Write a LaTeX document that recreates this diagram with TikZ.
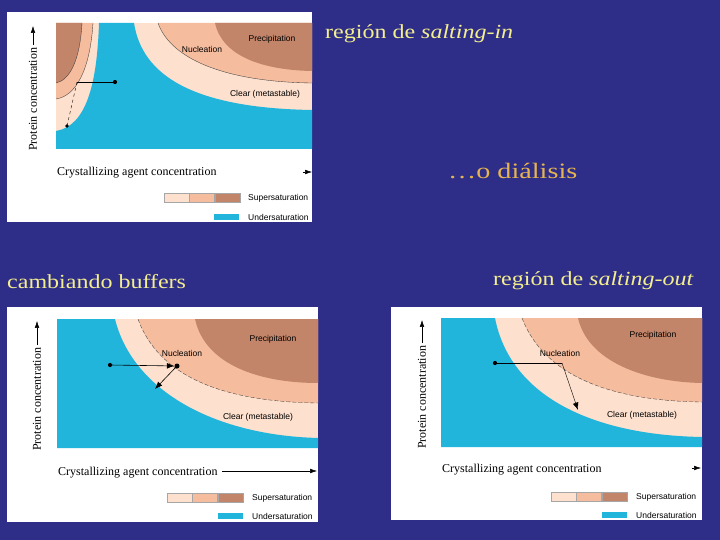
\documentclass[tikz,border=0pt]{standalone}
\usepackage{fontspec}
\setmainfont{Liberation Serif}
\newfontfamily\diagsans{Liberation Sans}
\usetikzlibrary{arrows.meta,positioning}
\definecolor{slideblue}{HTML}{2E2D88}
\definecolor{slideyellow}{HTML}{F3EE8E}
\definecolor{slideorange}{HTML}{E6B450}
\definecolor{undersat}{HTML}{22B5DC}
\definecolor{clearpeach}{HTML}{FDE0CE}
\definecolor{nucpeach}{HTML}{F5BC9E}
\definecolor{precbrown}{HTML}{C2856A}
\newcommand{\widetxt}[1]{\scalebox{1.2}[1]{#1}}
\tikzset{
  slideText/.style={font=\fontsize{20}{24}\selectfont, text=slideyellow, inner sep=0pt, anchor=base west},
  panelBox/.style={fill=white},
  regionLabel/.style={font=\diagsans\fontsize{8.5}{10}\selectfont, inner sep=1pt},
  legendLabel/.style={font=\diagsans\fontsize{8.5}{10}\selectfont, inner sep=0pt, anchor=west},
  axisLabel/.style={font=\fontsize{12}{14}\selectfont, inner sep=0pt},
  axisArrow/.style={-{Latex[length=2.4mm,width=1.6mm]}, line width=0.5pt},
  pathArrow/.style={-{Latex[length=2.6mm,width=2mm]}, line width=0.6pt},
  legendBox/.style={draw=black!35, line width=0.3pt, minimum width=25pt, minimum height=9pt, inner sep=0pt},
  boundLine/.style={line width=0.35pt, draw=black!75},
  stateDot/.style={circle, fill=black, inner sep=0pt, minimum size=4.2pt}
}
\begin{document}
\begin{tikzpicture}[x=1pt,y=-1pt]
  \useasboundingbox (0,0) rectangle (720,540);
  \fill[slideblue] (0,0) rectangle (720,540);

  % panel 1: salting-in
  \fill[panelBox] (7,12) rectangle (312,222);
  \begin{scope}
    \clip (56,23) rectangle (312,149);
    \fill[clearpeach] (56,23) rectangle (312,149);
    \fill[nucpeach] (56,23) -- (93,23) .. controls (90,70) and (76,96) .. (56,99) -- cycle;
    \fill[nucpeach] (158,23) .. controls (172,62) and (232,82) .. (312,83) -- (312,23) -- cycle;
    \fill[precbrown] (56,23) -- (82,23) .. controls (80,60) and (70,80) .. (56,83) -- cycle;
    \fill[precbrown] (215,23) .. controls (222,55) and (260,70) .. (312,71) -- (312,23) -- cycle;
    \fill[undersat] (99,23) .. controls (97,85) and (86,126) .. (56,131) -- (56,149) -- (312,149)
      -- (312,110) .. controls (192,108) and (142,75) .. (134,23) -- cycle;
    \draw[boundLine] (93,23) .. controls (90,70) and (76,96) .. (56,99);
    \draw[boundLine] (82,23) .. controls (80,60) and (70,80) .. (56,83);
    \draw[boundLine] (158,23) .. controls (172,62) and (232,82) .. (312,83);
  \end{scope}
  \node[regionLabel] (prec1) at (272,39) {Precipitation};
  \node[regionLabel] (nuc1) at (202,49) {Nucleation};
  \node[regionLabel] (clear1) at (265,94) {Clear (metastable)};
  \node[stateDot] (s1a) at (115,82) {};
  \coordinate (s1b) at (77,82);
  \node[stateDot, minimum size=3.6pt] (s1c) at (67,126) {};
  \draw[line width=0.5pt] (s1a.center) -- (s1b);
  \draw[line width=0.4pt, dashed] (s1b) -- (s1c.center);
  \node[axisLabel, rotate=90, anchor=west] (pc1) at (33,151) {Protein concentration};
  \coordinate (pc1tip) at (33,26);
  \draw[axisArrow] (pc1.east) ++(0,-3) -- (pc1tip);
  \node[axisLabel, anchor=base west] (ca1) at (57,176) {Crystallizing agent concentration};
  \coordinate (ca1tail) at (303,172);
  \coordinate (ca1tip) at (312,172);
  \draw[axisArrow] (ca1tail) -- (ca1tip);
  \begin{scope}
    \clip (7,12) rectangle (312,222);
    \node[legendBox, fill=clearpeach, anchor=north west] (l1a) at (164,193) {};
    \node[legendBox, fill=nucpeach, right=0pt of l1a] (l1b) {};
    \node[legendBox, fill=precbrown, right=0pt of l1b] (l1c) {};
    \node[legendBox, fill=undersat, draw=none, minimum height=6pt, anchor=north west] (l1d) at (214,214) {};
    \node[legendLabel] (sup1) at (248,198) {Supersaturation};
    \node[legendLabel] (und1) at (248,217) {Undersaturation};
  \end{scope}

  % panel 2: buffers
  \fill[panelBox] (7,307) rectangle (318,522);
  \begin{scope}
    \clip (57,319) rectangle (318,448);
    \fill[clearpeach] (57,319) rectangle (318,448);
    \fill[nucpeach] (138,319) .. controls (160,380) and (230,402) .. (318,403) -- (318,319) -- cycle;
    \fill[precbrown] (195,319) .. controls (205,365) and (260,383) .. (318,383) -- (318,319) -- cycle;
    \fill[undersat] (57,319) -- (115,319) .. controls (132,388) and (210,435) .. (318,438)
      -- (318,448) -- (57,448) -- cycle;
    \draw[boundLine, dash pattern=on 4pt off 2pt] (138,319) .. controls (160,380) and (230,402) .. (318,403);
  \end{scope}
  \node[regionLabel] (prec2) at (273,339) {Precipitation};
  \node[regionLabel] (nuc2) at (182,353) {Nucleation};
  \node[regionLabel] (clear2) at (258,417) {Clear (metastable)};
  \node[stateDot] (s2a) at (110,365) {};
  \node[stateDot, minimum size=5pt] (s2b) at (177,366) {};
  \coordinate (s2c) at (155,389);
  \draw[pathArrow] (s2a.center) -- (s2b);
  \draw[pathArrow] (s2b) -- (s2c);
  \node[axisLabel, rotate=90, anchor=west] (pc2) at (37,451) {Protein concentration};
  \coordinate (pc2tip) at (37,321);
  \draw[axisArrow] (pc2.east) ++(0,-3) -- (pc2tip);
  \node[axisLabel, anchor=base west] (ca2) at (58,475) {Crystallizing agent concentration};
  \coordinate (ca2tail) at (222,471);
  \coordinate (ca2tip) at (317,471);
  \draw[axisArrow] (ca2tail) -- (ca2tip);
  \begin{scope}
    \clip (7,307) rectangle (318,522);
    \node[legendBox, fill=clearpeach, anchor=north west] (l2a) at (167,493) {};
    \node[legendBox, fill=nucpeach, right=0pt of l2a] (l2b) {};
    \node[legendBox, fill=precbrown, right=0pt of l2b] (l2c) {};
    \node[legendBox, fill=undersat, draw=none, minimum height=6pt, anchor=north west] (l2d) at (218,513) {};
    \node[legendLabel] (sup2) at (252,498) {Supersaturation};
    \node[legendLabel] (und2) at (252,516) {Undersaturation};
  \end{scope}

  % panel 3: salting-out
  \fill[panelBox] (391,307) rectangle (702,520);
  \begin{scope}
    \clip (441,318) rectangle (702,447);
    \fill[clearpeach] (441,318) rectangle (702,447);
    \fill[nucpeach] (522,318) .. controls (545,378) and (615,401) .. (702,402) -- (702,318) -- cycle;
    \fill[precbrown] (578,318) .. controls (588,362) and (645,382) .. (702,383) -- (702,318) -- cycle;
    \fill[undersat] (441,318) -- (495,318) .. controls (510,395) and (590,435) .. (702,437)
      -- (702,447) -- (441,447) -- cycle;
    \draw[boundLine, dash pattern=on 4pt off 2pt] (522,318) .. controls (545,378) and (615,401) .. (702,402);
  \end{scope}
  \node[regionLabel] (prec3) at (653,335) {Precipitation};
  \node[regionLabel] (nuc3) at (560,353) {Nucleation};
  \node[regionLabel] (clear3) at (642,415) {Clear (metastable)};
  \node[stateDot] (s3a) at (495,363) {};
  \coordinate (s3b) at (562,363);
  \coordinate (s3c) at (578,410);
  \draw[line width=0.5pt] (s3a.center) -- (s3b);
  \draw[pathArrow, line width=0.4pt] (s3b) -- (s3c);
  \node[axisLabel, rotate=90, anchor=west] (pc3) at (422,449) {Protein concentration};
  \coordinate (pc3tip) at (422,320);
  \draw[axisArrow] (pc3.east) ++(0,-3) -- (pc3tip);
  \node[axisLabel, anchor=base west] (ca3) at (442,472) {Crystallizing agent concentration};
  \coordinate (ca3tail) at (692,468);
  \coordinate (ca3tip) at (701,468);
  \draw[axisArrow] (ca3tail) -- (ca3tip);
  \begin{scope}
    \clip (391,307) rectangle (702,520);
    \node[legendBox, fill=clearpeach, anchor=north west] (l3a) at (551,492) {};
    \node[legendBox, fill=nucpeach, right=0pt of l3a] (l3b) {};
    \node[legendBox, fill=precbrown, right=0pt of l3b] (l3c) {};
    \node[legendBox, fill=undersat, draw=none, minimum height=6pt, anchor=north west] (l3d) at (602,512) {};
    \node[legendLabel] (sup3) at (636,497) {Supersaturation};
    \node[legendLabel] (und3) at (636,515) {Undersaturation};
  \end{scope}

  % slide texts
  \node[slideText] (saltin) at (325,39) {\widetxt{región de \textit{salting-in}}};
  \node[slideText, text=slideorange, font=\fontsize{22}{26}\selectfont] (dialysis) at (448,179) {\scalebox{1.28}[1]{\ldots o diálisis}};
  \node[slideText] (saltout) at (493,285) {\widetxt{región de \textit{salting-out}}};
  \node[slideText] (buffers) at (7,288) {\widetxt{cambiando buffers}};
\end{tikzpicture}
\end{document}
